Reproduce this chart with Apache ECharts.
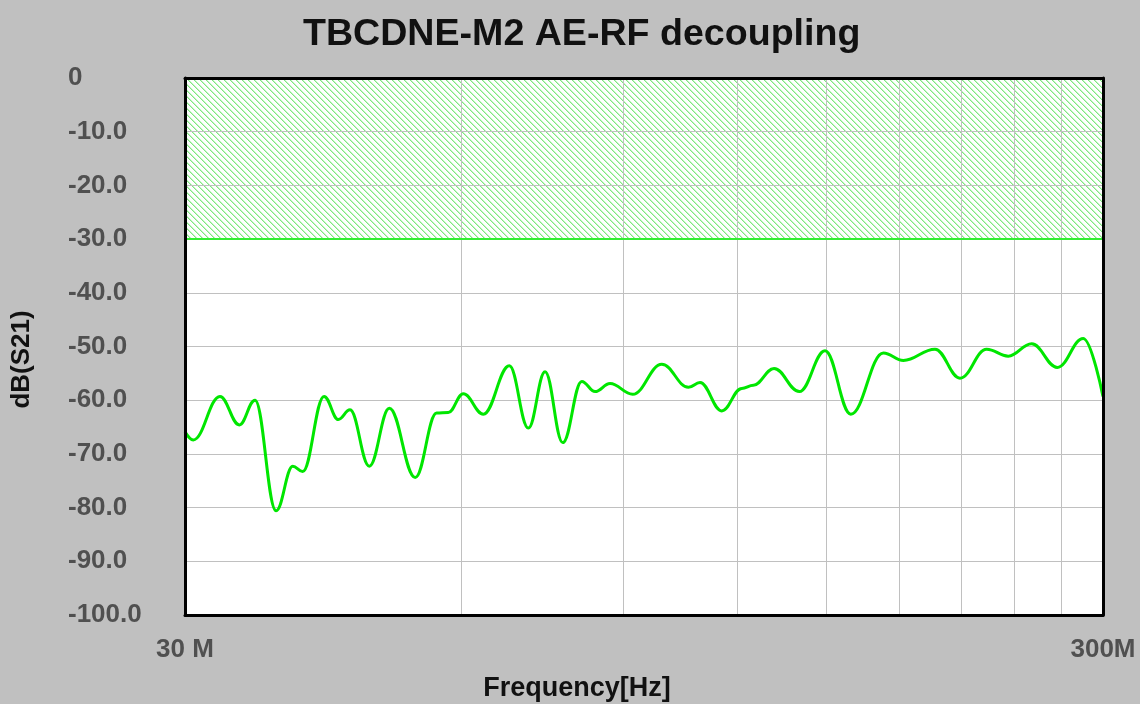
<!DOCTYPE html>
<html>
<head>
<meta charset="utf-8">
<script src="https://cdn.jsdelivr.net/npm/echarts@6/dist/echarts.min.js"></script>
<style>
html,body{margin:0;padding:0;background:#c0c0c0;}
#chart{width:1140px;height:704px;}
</style>
</head>
<body>
<div id="chart"></div>
<script>
// Frequency in MHz
var freqMHz = [30.0, 30.63, 32.75, 34.38, 35.76, 37.70, 39.31, 40.30, 42.52, 44.07, 45.38, 47.63, 50.08, 53.45, 56.39, 58.06, 60.29, 63.40, 67.68, 70.98, 74.02, 77.38, 81.16, 83.91, 87.12, 92.22, 99.19, 106.04, 109.18, 115.29, 121.23, 124.80, 131.45, 140.07, 149.40, 159.35, 172.94, 181.84, 196.85, 209.58, 224.06, 236.56, 250.85, 267.48, 285.54, 300];
var s21dB = [-65.9, -67.4, -59.3, -64.6, -60.0, -80.6, -72.3, -73.3, -59.3, -63.6, -61.8, -72.3, -61.5, -74.4, -62.4, -62.3, -58.8, -62.6, -53.6, -65.2, -54.7, -67.9, -56.5, -58.4, -56.9, -58.9, -53.3, -57.6, -56.7, -62.0, -57.8, -57.2, -54.1, -58.4, -50.8, -62.6, -51.2, -52.6, -50.5, -55.9, -50.5, -51.8, -49.5, -53.9, -48.5, -59.3];
var xGridMHz = [60, 90, 120, 150, 180, 210, 240, 270];
var yGridDB = [-10, -20, -30, -40, -50, -60, -70, -80, -90];
var xTickValues = [30, 300];
var xTickLabels = ['30 M', '300M'];
var limitTop = 0;
var limitBottom = -30;
var titleText = 'TBCDNE-M2 AE-RF decoupling';

var seriesData = freqMHz.map(function (f, i) { return [f, s21dB[i]]; });

// hatch pattern
var pc = document.createElement('canvas');
pc.width = 6; pc.height = 6;
var pctx = pc.getContext('2d');
pctx.fillStyle = '#ffffff';
pctx.fillRect(0, 0, 6, 6);
for (var i = 0; i < 6; i++) {
  pctx.fillStyle = '#7fe87f';
  pctx.fillRect(i, i, 1, 1);
  pctx.fillStyle = '#c4f5c4';
  pctx.fillRect((i + 1) % 6, i, 1, 1);
}

var chart = echarts.init(document.getElementById('chart'), null, {renderer: 'canvas'});
var labelColor = '#505050';
var fontFam = '"Liberation Sans", Arial, sans-serif';

chart.setOption({
  animation: false,
  backgroundColor: '#c0c0c0',
  title: {
    text: titleText,
    left: 298,
    top: 11,
    textStyle: {fontFamily: fontFam, fontWeight: 'bold', fontSize: 37.6, color: '#111111'}
  },
  grid: {left: 185, right: 37, top: 78, bottom: 89, show: true, backgroundColor: '#ffffff', borderWidth: 0,
         containLabel: false, outerBoundsMode: 'none'},
  xAxis: [{
    type: 'log', logBase: 10, min: 30, max: 300, position: 'bottom', z: 10,
    axisLine: {show: true, onZero: false, lineStyle: {color: '#000', width: 3}},
    axisTick: {show: false},
    splitLine: {show: false},
    axisLabel: {
      interval: 0, margin: 22, color: labelColor, fontFamily: fontFam, fontWeight: 'bold', fontSize: 26,
      formatter: function (v) {
        var r = Math.round(v);
        var k = xTickValues.indexOf(r);
        return k >= 0 ? xTickLabels[k] : '';
      }
    },
    name: 'Frequency[Hz]', nameLocation: 'middle', nameGap: 60,
    nameTextStyle: {fontFamily: fontFam, fontWeight: 'bold', fontSize: 27, color: '#111111', padding: [0, 134, 0, 0]}
  }, {
    type: 'log', logBase: 10, min: 30, max: 300, position: 'top', z: 10,
    axisLine: {show: true, onZero: false, lineStyle: {color: '#000', width: 3}},
    axisTick: {show: false}, splitLine: {show: false}, axisLabel: {show: false}
  }],
  yAxis: [{
    type: 'value', min: -100, max: 0, interval: 10, position: 'left', z: 10,
    axisLine: {show: true, onZero: false, lineStyle: {color: '#000', width: 3}},
    axisTick: {show: false},
    splitLine: {show: false},
    axisLabel: {
      align: 'left', margin: 117, color: labelColor, fontFamily: fontFam, fontWeight: 'bold', fontSize: 26,
      formatter: function (v) { return v === 0 ? '0' : v.toFixed(1); }
    },
    name: 'dB(S21)', nameLocation: 'middle', nameGap: 150, nameRotate: 90,
    nameTextStyle: {fontFamily: fontFam, fontWeight: 'bold', fontSize: 26, color: '#111111', padding: [0, 26, 0, 0]}
  }, {
    type: 'value', min: -100, max: 0, interval: 10, position: 'right', z: 10,
    axisLine: {show: true, onZero: false, lineStyle: {color: '#000', width: 3}},
    axisTick: {show: false}, splitLine: {show: false}, axisLabel: {show: false}
  }],
  series: [{
    type: 'line', data: [], z: 2, silent: true,
    markArea: {
      silent: true,
      itemStyle: {color: {image: pc, repeat: 'repeat'}, borderWidth: 0},
      data: [[{yAxis: limitTop}, {yAxis: limitBottom}]]
    }
  }, {
    type: 'line', data: [], z: 3, silent: true,
    markLine: {
      silent: true, symbol: ['none', 'none'], label: {show: false},
      lineStyle: {color: '#c0c0c0', width: 1, type: 'solid'},
      data: xGridMHz.map(function (f) { return {xAxis: f}; }).concat(yGridDB.map(function (d) { return {yAxis: d}; }))
    }
  }, {
    type: 'line', data: [], z: 4, silent: true,
    markLine: {
      silent: true, symbol: ['none', 'none'], label: {show: false},
      lineStyle: {color: '#33ee33', width: 2, type: 'solid'},
      data: [{yAxis: limitBottom}]
    }
  }, {
    type: 'line', data: seriesData, z: 5,
    showSymbol: false, symbol: 'none',
    smooth: 0.4, smoothMonotone: 'x',
    lineStyle: {color: '#00e600', width: 3},
    itemStyle: {color: '#00e600'}
  }]
});
</script>
</body>
</html>
